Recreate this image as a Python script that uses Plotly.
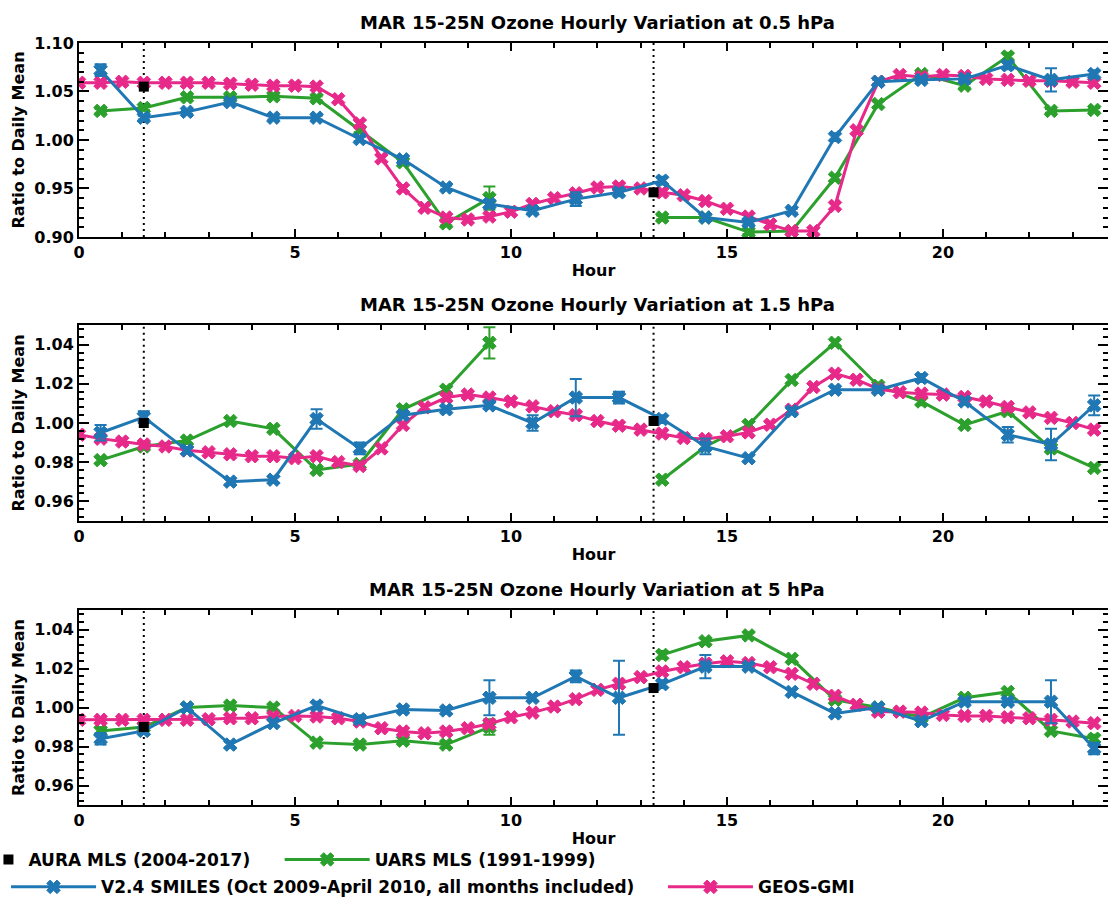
import plotly.graph_objects as go

# ---------------- data ----------------
obs_hours = [0.5, 1.5, 2.5, 3.5, 4.5, 5.5, 6.5, 7.5, 8.5, 9.5, 10.5, 11.5,
             12.5, 13.5, 14.5, 15.5, 16.5, 17.5, 18.5, 19.5, 20.5, 21.5, 22.5, 23.5]
model_hours = [0, 0.5, 1, 1.5, 2, 2.5, 3, 3.5, 4, 4.5, 5, 5.5, 6, 6.5, 7, 7.5,
               8, 8.5, 9, 9.5, 10, 10.5, 11, 11.5, 12, 12.5, 13, 13.5, 14, 14.5,
               15, 15.5, 16, 16.5, 17, 17.5, 18, 18.5, 19, 19.5, 20, 20.5, 21,
               21.5, 22, 22.5, 23, 23.5]
aura_hours = [1.5, 13.3]

titles = ["MAR 15-25N Ozone Hourly Variation at 0.5 hPa",
          "MAR 15-25N Ozone Hourly Variation at 1.5 hPa",
          "MAR 15-25N Ozone Hourly Variation at 5 hPa"]

# 0.5 hPa
aura_p05 = [1.055, 0.946]
uars_p05 = [1.030, 1.033, 1.044, 1.044, 1.045, 1.043, 1.010, 0.977, 0.914, 0.940,
            None, None, None, 0.920, 0.920, 0.905, 0.906, 0.961, 1.037, 1.068,
            1.056, 1.086, 1.030, 1.031]
uars_p05_err = [0.002, 0.002, 0.002, 0.002, 0.002, 0.002, 0.002, 0.002, 0.002, 0.012,
                0, 0, 0, 0.002, 0.002, 0.002, 0.002, 0.003, 0.003, 0.002,
                0.002, 0.004, 0.002, 0.002]
smiles_p05 = [1.072, 1.023, 1.029, 1.039, 1.023, 1.023, 1.001, 0.980, 0.951, 0.934,
              0.927, 0.939, 0.946, 0.958, 0.920, 0.915, 0.927, 1.003, 1.060, 1.062,
              1.063, 1.077, 1.062, 1.068]
smiles_p05_err = [0.006, 0.002, 0.002, 0.002, 0.002, 0.002, 0.002, 0.002, 0.002, 0.004,
                  0.002, 0.007, 0.004, 0.004, 0.003, 0.002, 0.002, 0.004, 0.002, 0.002,
                  0.002, 0.004, 0.012, 0.004]
geos_p05 = [1.059, 1.059, 1.060, 1.059, 1.059, 1.059, 1.059, 1.058, 1.057, 1.056,
            1.056, 1.055, 1.042, 1.017, 0.981, 0.950, 0.930, 0.920, 0.918, 0.921,
            0.926, 0.934, 0.940, 0.945, 0.951, 0.952, 0.950, 0.946, 0.943, 0.937,
            0.929, 0.921, 0.913, 0.906, 0.906, 0.932, 1.010, 1.060, 1.067, 1.065,
            1.067, 1.066, 1.063, 1.062, 1.061, 1.061, 1.060, 1.059]

# 1.5 hPa
aura_p15 = [1.000, 1.001]
uars_p15 = [0.981, 0.988, 0.991, 1.001, 0.997, 0.976, 0.979, 1.007, 1.017, 1.041,
            None, None, None, 0.971, 0.988, 0.999, 1.022, 1.041, 1.019, 1.011,
            0.999, 1.006, 0.987, 0.977]
uars_p15_err = [0.0015, 0.0015, 0.0015, 0.0015, 0.0015, 0.0015, 0.0015, 0.0015, 0.0015, 0.008,
                0, 0, 0, 0.0015, 0.0015, 0.0015, 0.0015, 0.0015, 0.0015, 0.002,
                0.0015, 0.0015, 0.0015, 0.0015]
smiles_p15 = [0.995, 1.003, 0.986, 0.970, 0.971, 1.002, 0.987, 1.004, 1.007, 1.009,
              1.000, 1.013, 1.013, 1.002, 0.988, 0.982, 1.006, 1.017, 1.017, 1.023,
              1.011, 0.994, 0.989, 1.009]
smiles_p15_err = [0.004, 0.003, 0.0015, 0.0015, 0.0015, 0.005, 0.003, 0.0015, 0.0015, 0.0015,
                  0.004, 0.0095, 0.003, 0.002, 0.004, 0.0015, 0.0015, 0.0015, 0.0015, 0.002,
                  0.0015, 0.004, 0.008, 0.005]
geos_p15 = [0.994, 0.992, 0.9905, 0.989, 0.988, 0.986, 0.985, 0.984, 0.983, 0.983,
            0.982, 0.983, 0.980, 0.978, 0.987, 0.999, 1.008, 1.013, 1.0145, 1.013,
            1.011, 1.0085, 1.006, 1.004, 1.001, 0.9986, 0.9966, 0.9946, 0.9923, 0.9918,
            0.9932, 0.9952, 0.9991, 1.0068, 1.0184, 1.0252, 1.0221, 1.0174, 1.0157, 1.015,
            1.0145, 1.0133, 1.011, 1.0082, 1.0054, 1.0026, 1.000, 0.9966]

# 5 hPa
aura_p5 = [0.990, 1.010]
uars_p5 = [0.988, 0.990, 1.000, 1.001, 1.000, 0.982, 0.981, 0.983, 0.981, 0.990,
           None, None, None, 1.027, 1.034, 1.037, 1.025, 1.004, 1.000, 0.995,
           1.005, 1.008, 0.988, 0.984]
uars_p5_err = [0.002, 0.0015, 0.0015, 0.0015, 0.0015, 0.0015, 0.0015, 0.0015, 0.0015, 0.004,
               0, 0, 0, 0.002, 0.0015, 0.0015, 0.0015, 0.0015, 0.0015, 0.0015,
               0.0015, 0.0015, 0.0015, 0.002]
smiles_p5 = [0.984, 0.988, 1.000, 0.981, 0.992, 1.001, 0.994, 0.999, 0.9985, 1.005,
             1.005, 1.016, 1.005, 1.012, 1.021, 1.021, 1.008, 0.997, 1.000, 0.993,
             1.003, 1.003, 1.003, 0.979]
smiles_p5_err = [0.003, 0.0015, 0.0015, 0.0015, 0.0015, 0.002, 0.002, 0.0015, 0.0015, 0.009,
                 0.0015, 0.003, 0.019, 0.002, 0.006, 0.0015, 0.0015, 0.0015, 0.0015, 0.0015,
                 0.0015, 0.0015, 0.011, 0.003]
geos_p5 = [0.9937, 0.9937, 0.9937, 0.9937, 0.9937, 0.9937, 0.994, 0.9945, 0.9945, 0.9954,
           0.9957, 0.9954, 0.9945, 0.9928, 0.9894, 0.9877, 0.9868, 0.9877, 0.9894, 0.9916,
           0.995, 0.9974, 1.0005, 1.0043, 1.0091, 1.0122, 1.0156, 1.0185, 1.0207, 1.0225,
           1.0237, 1.0228, 1.0207, 1.0173, 1.0122, 1.006, 1.0014, 0.9979, 0.9979, 0.9974,
           0.9962, 0.9957, 0.9957, 0.995, 0.9945, 0.9937, 0.9928, 0.992]

panels = [
    dict(aura=aura_p05, uars=uars_p05, uars_err=uars_p05_err, smiles=smiles_p05,
         smiles_err=smiles_p05_err, geos=geos_p05, yrange=[0.90, 1.10], dtick=0.05, minor=0.01),
    dict(aura=aura_p15, uars=uars_p15, uars_err=uars_p15_err, smiles=smiles_p15,
         smiles_err=smiles_p15_err, geos=geos_p15, yrange=[0.95, 1.05], dtick=0.02, minor=0.004),
    dict(aura=aura_p5, uars=uars_p5, uars_err=uars_p5_err, smiles=smiles_p5,
         smiles_err=smiles_p5_err, geos=geos_p5, yrange=[0.95, 1.05], dtick=0.02, minor=0.004),
]

# ---------------- style ----------------
GREEN = "#2ca02c"
BLUE = "#1f77b4"
PINK = "#e7298a"
FONT = "DejaVu Sans"
domains = [[0.7455, 1.0], [0.373, 0.6297], [0.0, 0.2558]]
MSIZE = 12

fig = go.Figure()

for i, p in enumerate(panels):
    xa = "x" if i == 0 else f"x{i+1}"
    ya = "y" if i == 0 else f"y{i+1}"
    first = i == 0
    fig.add_trace(go.Scatter(
        x=obs_hours, y=p["uars"], mode="lines+markers", name="UARS MLS (1991-1999)",
        xaxis=xa, yaxis=ya, line=dict(color=GREEN, width=3),
        marker=dict(symbol="x", size=MSIZE, color=GREEN, line=dict(width=1, color=GREEN)),
        error_y=dict(type="data", array=p["uars_err"], color=GREEN, thickness=2, width=6),
        showlegend=first, legend="legend"))
    fig.add_trace(go.Scatter(
        x=model_hours, y=p["geos"], mode="lines+markers", name="GEOS-GMI",
        xaxis=xa, yaxis=ya, line=dict(color=PINK, width=3),
        marker=dict(symbol="x", size=MSIZE, color=PINK, line=dict(width=1, color=PINK)),
        showlegend=first, legend="legend4"))
    fig.add_trace(go.Scatter(
        x=obs_hours, y=p["smiles"], mode="lines+markers",
        name="V2.4 SMILES (Oct 2009-April 2010, all months included)",
        xaxis=xa, yaxis=ya, line=dict(color=BLUE, width=3),
        marker=dict(symbol="x", size=MSIZE, color=BLUE, line=dict(width=1, color=BLUE)),
        error_y=dict(type="data", array=p["smiles_err"], color=BLUE, thickness=2, width=6),
        showlegend=first, legend="legend2"))
    fig.add_trace(go.Scatter(
        x=aura_hours, y=p["aura"], mode="markers", name="AURA MLS (2004-2017)",
        xaxis=xa, yaxis=ya, marker=dict(symbol="square", size=10, color="black"),
        showlegend=first, legend="legend3"))

    for h in aura_hours:
        fig.add_shape(type="line", xref=xa, yref=f"{ya} domain", x0=h, x1=h, y0=0, y1=1,
                      line=dict(color="black", width=2, dash="2px,4px"), layer="below")

    fig.add_annotation(text=titles[i], xref=xa, yref=f"{ya} domain", x=12, y=1,
                       yanchor="bottom", yshift=8, showarrow=False,
                       font=dict(family=FONT, size=18, color="black", weight="bold"))

    xkey = "xaxis" if i == 0 else f"xaxis{i+1}"
    ykey = "yaxis" if i == 0 else f"yaxis{i+1}"
    fig.update_layout({
        xkey: dict(domain=[0, 1], anchor=ya, range=[0, 23.82], tick0=0, dtick=5,
                   ticks="inside", ticklen=8, tickwidth=1.5, tickcolor="black",
                   showline=True, linecolor="black", linewidth=2, mirror="allticks",
                   showgrid=False, zeroline=False, automargin=False,
                   minor=dict(dtick=1, ticks="inside", ticklen=5, tickwidth=1.5, tickcolor="black"),
                   tickfont=dict(family=FONT, size=16, color="black", weight="bold"),
                   title=dict(text="Hour", standoff=4,
                              font=dict(family=FONT, size=16, color="black", weight="bold"))),
        ykey: dict(domain=domains[i], anchor=xa, range=p["yrange"], tick0=0, dtick=p["dtick"],
                   tickformat=".2f", ticks="inside", ticklen=10, tickwidth=1.5, tickcolor="black",
                   showline=True, linecolor="black", linewidth=2, mirror="allticks",
                   showgrid=False, zeroline=False, automargin=False,
                   minor=dict(dtick=p["minor"], ticks="inside", ticklen=5, tickwidth=1.5,
                              tickcolor="black"),
                   tickfont=dict(family=FONT, size=16, color="black", weight="bold"),
                   title=dict(text="Ratio to Daily Mean", standoff=6,
                              font=dict(family=FONT, size=16, color="black", weight="bold"))),
    })

leg_font = dict(family=FONT, size=17, color="black", weight="bold")
common_leg = dict(orientation="h", xanchor="left", yanchor="middle", font=leg_font,
                  bgcolor="rgba(0,0,0,0)")
fig.update_layout(
    width=1108, height=898,
    margin=dict(l=79, r=0, t=43, b=93, autoexpand=False),
    plot_bgcolor="white", paper_bgcolor="white",
    font=dict(family=FONT, color="black"),
    legend3=dict(x=-0.088, y=-0.072, itemwidth=30, **common_leg),
    legend=dict(x=0.195, y=-0.072, itemwidth=85, **common_leg),
    legend2=dict(x=-0.0709, y=-0.108, itemwidth=85, **common_leg),
    legend4=dict(x=0.5675, y=-0.108, itemwidth=85, **common_leg),
)

fig.write_html("out.html",
               config={"displayModeBar": False},
               post_script="document.body.style.margin='0';document.body.style.padding='0';")
